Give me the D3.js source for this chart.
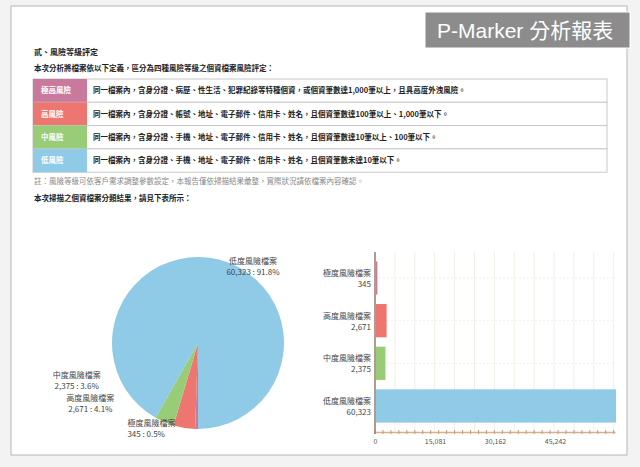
<!DOCTYPE html>
<html>
<head>
<meta charset="utf-8">
<script src="https://cdn.jsdelivr.net/npm/d3@7"></script>
<style>
  body { margin: 0; background: #f3f3f3; }
  text { font-family: "Noto Sans CJK TC", "Noto Sans", sans-serif; }
</style>
</head>
<body>
<div id="chart"></div>
<script>
// data
const categories = ["極度風險檔案", "高度風險檔案", "中度風險檔案", "低度風險檔案"];
const counts = [345, 2671, 2375, 60323];
const shares = ["0.5%", "4.1%", "3.6%", "91.8%"];
const colors = ["#c97a9c", "#ee7670", "#98cc76", "#8fcae6"];
const levelNames = ["極高風險", "高風險", "中風險", "低風險"];
const levelRules = [
  "同一檔案內，含身分證、病歷、性生活、犯罪紀錄等特種個資，或個資筆數達1,000筆以上，且具高度外洩風險。",
  "同一檔案內，含身分證、帳號、地址、電子郵件、信用卡、姓名，且個資筆數達100筆以上、1,000筆以下。",
  "同一檔案內，含身分證、手機、地址、電子郵件、信用卡、姓名，且個資筆數達10筆以上、100筆以下。",
  "同一檔案內，含身分證、手機、地址、電子郵件、信用卡、姓名，且個資筆數未達10筆以下。"
];
const xTicks = [0, 15081, 30162, 45242];

const width = 640, height = 467;
const fmt = d3.format(",");

const svg = d3.select("#chart")
  .append("svg")
    .attr("width", width)
    .attr("height", height);

// page
svg.append("rect")
  .attr("x", 11).attr("y", 6)
  .attr("width", 616).attr("height", 449)
  .attr("fill", "#fff")
  .attr("stroke", "#b5b5b5");

// report badge
svg.append("rect")
  .attr("x", 425).attr("y", 12)
  .attr("width", 205).attr("height", 36)
  .attr("fill", "#8c8c8c")
  .attr("stroke", "#fff");
svg.append("text")
  .attr("x", 437).attr("y", 38)
  .attr("fill", "#fff")
  .style("font-family", "'Liberation Sans', 'Noto Sans CJK TC', sans-serif")
  .style("font-size", "21px")
  .text("P-Marker 分析報表");

// heading + intro
svg.append("text")
  .attr("x", 34).attr("y", 55)
  .style("font-size", "8px").style("font-weight", "bold")
  .attr("fill", "#222")
  .text("貳、風險等級評定");
svg.append("text")
  .attr("x", 34).attr("y", 71)
  .style("font-size", "7.5px").style("font-weight", "bold")
  .attr("fill", "#222")
  .text("本次分析將檔案依以下定義，區分為四種風險等級之個資檔案風險評定：");

// definition table
const tableTop = 79, rowH = 23.3, tableLeft = 33, tableRight = 607, cellW = 54;
const rows = svg.append("g").selectAll("g")
  .data(levelNames)
  .join("g")
    .attr("transform", (d, i) => "translate(0," + (tableTop + i * rowH) + ")");

rows.append("rect")
  .attr("x", tableLeft).attr("y", 0)
  .attr("width", tableRight - tableLeft).attr("height", rowH)
  .attr("fill", "#fff")
  .attr("stroke", "#c8c8c8");
rows.append("rect")
  .attr("x", tableLeft).attr("y", 0)
  .attr("width", cellW).attr("height", rowH)
  .attr("fill", (d, i) => colors[i]);
rows.append("text")
  .attr("x", tableLeft + 8).attr("y", rowH / 2)
  .attr("dy", "0.35em")
  .attr("fill", "#fff")
  .style("font-size", "7.5px").style("font-weight", "bold")
  .text(d => d);
rows.append("text")
  .attr("x", 93).attr("y", rowH / 2)
  .attr("dy", "0.35em")
  .attr("fill", "#222")
  .style("font-size", "7.5px").style("font-weight", "bold")
  .text((d, i) => levelRules[i]);

svg.append("text")
  .attr("x", 34).attr("y", 184)
  .style("font-size", "7.5px")
  .attr("fill", "#888")
  .text("註：風險等級可依客戶需求調整參數設定，本報告僅依掃描結果彙整，實際狀況請依檔案內容確認。");
svg.append("text")
  .attr("x", 34).attr("y", 201)
  .style("font-size", "7.5px").style("font-weight", "bold")
  .attr("fill", "#222")
  .text("本次掃描之個資檔案分類結果，請見下表所示：");

// pie
const cx = 198, cy = 343, r = 86;
const pie = d3.pie().sort(null).startAngle(Math.PI).endAngle(3 * Math.PI);
const arcs = pie(counts);
const arc = d3.arc().innerRadius(0).outerRadius(r);
const labelArc = d3.arc().innerRadius(r + 12).outerRadius(r + 12);
// label nudges relative to the outer centroid of each slice
const labelNudge = [[-69, -15], [-92, -39], [-83, -55], [30, 16]];
const labelAnchor = ["start", "middle", "middle", "middle"];

const pieG = svg.append("g").attr("transform", "translate(" + cx + "," + cy + ")");
pieG.selectAll("path")
  .data(arcs)
  .join("path")
    .attr("d", arc)
    .attr("fill", (d, i) => colors[i]);

const pieLabels = pieG.selectAll("text.plabel")
  .data(arcs)
  .join("text")
    .attr("class", "plabel")
    .attr("transform", (d, i) => {
      const c = labelArc.centroid(d);
      return "translate(" + (c[0] + labelNudge[i][0]) + "," + (c[1] + labelNudge[i][1]) + ")";
    })
    .attr("text-anchor", (d, i) => labelAnchor[i])
    .attr("fill", "#444")
    .style("font-size", "8px");
pieLabels.append("tspan")
  .attr("x", 0).attr("dy", 0)
  .text((d, i) => categories[i]);
pieLabels.append("tspan")
  .attr("x", 0).attr("dy", 11)
  .text((d, i) => fmt(counts[i]) + " : " + shares[i]);

// bar chart
const x = d3.scaleLinear()
  .domain([0, d3.max(counts)])
  .range([375, 615]);
const y = d3.scaleBand()
  .domain(categories)
  .range([252, 432])
  .padding(0.22);

const barG = svg.append("g");

barG.append("g")
  .selectAll("line")
  .data(x.ticks(12))
  .join("line")
    .attr("x1", d => x(d)).attr("x2", d => x(d))
    .attr("y1", 252).attr("y2", 432)
    .attr("stroke", "#f1eee6");
barG.append("g")
  .selectAll("line")
  .data(categories)
  .join("line")
    .attr("x1", 375).attr("x2", 615)
    .attr("y1", d => y(d) + y.bandwidth() / 2)
    .attr("y2", d => y(d) + y.bandwidth() / 2)
    .attr("stroke", "#f0f0f0")
    .attr("stroke-dasharray", "2,2");

barG.selectAll("rect")
  .data(counts)
  .join("rect")
    .attr("x", x(0) + 1)
    .attr("y", (d, i) => y(categories[i]))
    .attr("width", d => x(d) - x(0))
    .attr("height", y.bandwidth())
    .attr("fill", (d, i) => colors[i]);

// y labels
const yl = barG.selectAll("text.ylabel")
  .data(categories)
  .join("text")
    .attr("class", "ylabel")
    .attr("text-anchor", "end")
    .attr("fill", "#444")
    .style("font-size", "8px")
    .attr("transform", d => "translate(371," + (y(d) + y.bandwidth() / 2 - 2) + ")");
yl.append("tspan").attr("x", 0).attr("dy", 0).text(d => d);
yl.append("tspan").attr("x", 0).attr("dy", 11).text((d, i) => fmt(counts[i]));

// axes
const xAxis = barG.append("g")
  .attr("transform", "translate(0,432)")
  .call(d3.axisBottom(x).tickValues(xTicks).tickSize(0).tickPadding(7).tickFormat(fmt));
xAxis.select(".domain").attr("stroke", "#d7b08e").attr("stroke-width", 1.5);
xAxis.selectAll("text").attr("fill", "#555").style("font-size", "7px");
barG.append("g")
  .selectAll("line")
  .data(x.ticks(40))
  .join("line")
    .attr("x1", d => x(d)).attr("x2", d => x(d))
    .attr("y1", 430).attr("y2", 434)
    .attr("stroke", "#c99a78");

barG.append("line")
  .attr("x1", 375).attr("x2", 375)
  .attr("y1", 252).attr("y2", 434)
  .attr("stroke", "#9c7b6c")
  .attr("stroke-width", 1.5);
</script>
</body>
</html>
